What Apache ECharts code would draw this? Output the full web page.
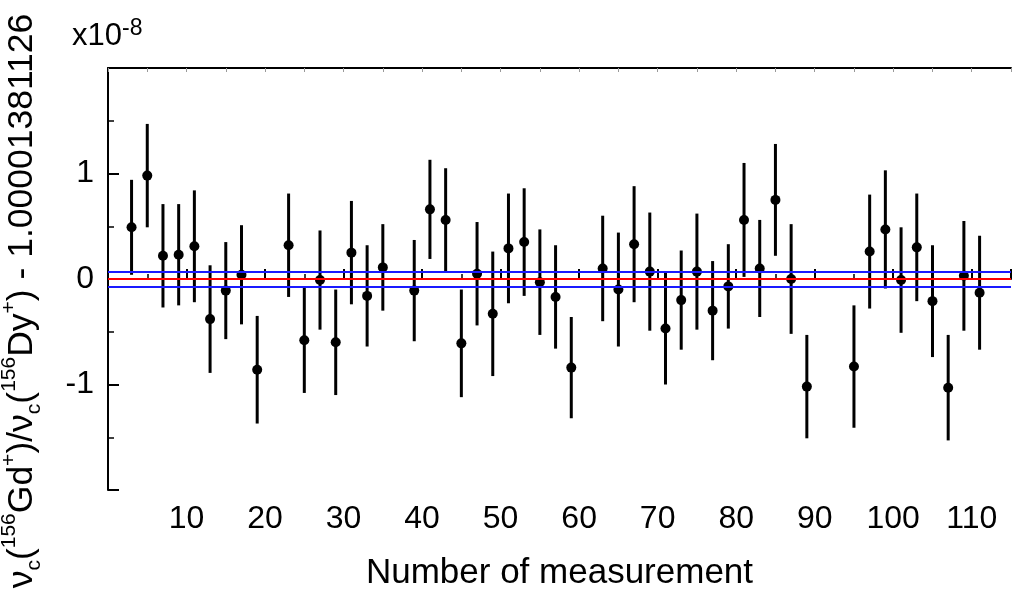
<!DOCTYPE html>
<html>
<head>
    <meta charset="utf-8">
    <title>Gd / Dy frequency ratio</title>
    <script src="https://cdn.jsdelivr.net/npm/echarts@6/dist/echarts.min.js"></script>
    <style>
        html, body { margin: 0; padding: 0; background: #fff; }
        #chart1 { width: 1014px; height: 596px; }
    </style>
</head>
<body>
<div id="chart1"></div>
<script type="text/javascript">
    // measurement number, ratio offset (x1e-8) and its 1-sigma error
    var measNo = [3, 5, 7, 9, 11, 13, 15, 17, 19, 23, 25, 27, 29, 31, 33, 35,
        39, 41, 43, 45, 47, 49, 51, 53, 55, 57, 59, 63, 65, 67, 69, 71,
        73, 75, 77, 79, 81, 83, 85, 87, 89, 95, 97, 99, 101, 103, 105, 107, 109, 111];
    var ratioVal = [0.49, 0.98, 0.22, 0.23, 0.31, -0.38, -0.11, 0.04, -0.86, 0.32, -0.58, -0.01, -0.60, 0.25, -0.16, 0.11,
        -0.11, 0.66, 0.56, -0.61, 0.05, -0.33, 0.29, 0.35, -0.03, -0.17, -0.84, 0.10, -0.10, 0.33, 0.07, -0.47,
        -0.20, 0.07, -0.30, -0.07, 0.56, 0.10, 0.75, 0.00, -1.02, -0.83, 0.26, 0.47, -0.01, 0.30, -0.21, -1.03, 0.03, -0.13];
    var ratioErr = [0.45, 0.49, 0.49, 0.48, 0.53, 0.51, 0.46, 0.47, 0.51, 0.49, 0.50, 0.47, 0.50, 0.49, 0.48, 0.41,
        0.48, 0.47, 0.49, 0.51, 0.49, 0.59, 0.52, 0.51, 0.50, 0.49, 0.48, 0.50, 0.54, 0.55, 0.56, 0.53,
        0.47, 0.55, 0.47, 0.40, 0.54, 0.46, 0.53, 0.52, 0.49, 0.58, 0.54, 0.56, 0.50, 0.51, 0.53, 0.50, 0.52, 0.54];
    // weighted mean (red) and its uncertainty band (blue)
    var meanVal = 0;
    var bandVal = [-0.07, 0.07];
    var xTickLabels = ['10', '20', '30', '40', '50', '60', '70', '80', '90', '100', '110'];
    var yTickLabels = ['-1', '0', '1'];

    var FONT = 'Liberation Sans, Arial, sans-serif';

    var pts = [];
    for (var i = 0; i < measNo.length; i++) {
        pts.push([measNo[i], ratioVal[i], ratioErr[i]]);
    }

    var myChart1 = echarts.init(document.getElementById('chart1'));

    myChart1.setOption({
        animation: false,
        backgroundColor: '#fff',
        textStyle: { fontFamily: FONT },
        grid: { left: 108, top: 68, right: -4, bottom: 104 },
        graphic: [
            {
                type: 'text', x: 22, y: 301, rotation: Math.PI / 2,
                style: {
                    text: '{m|ν}{s|c}{m|(}{p|156}{m|Gd}{p|+}{m|)/ν}{s|c}{m|(}{p|156}{m|Dy}{p|+}{m|) - 1.00001381126}',
                    align: 'center', verticalAlign: 'middle', fill: '#000',
                    rich: {
                        m: { fontSize: 35.5, lineHeight: 46, fontFamily: FONT, fill: '#000' },
                        p: { fontSize: 21, lineHeight: 22, verticalAlign: 'top', fontFamily: FONT, fill: '#000' },
                        s: { fontSize: 21, lineHeight: 22, verticalAlign: 'bottom', fontFamily: FONT, fill: '#000' }
                    }
                }
            },
            {
                type: 'text', x: 72, y: 17,
                style: {
                    text: '{m|x10}{p|-8}',
                    fill: '#000',
                    rich: {
                        m: { fontSize: 31, lineHeight: 38, fontFamily: FONT, fill: '#000' },
                        p: { fontSize: 23, lineHeight: 20, verticalAlign: 'top', fontFamily: FONT, fill: '#000' }
                    }
                }
            }
        ],
        xAxis: [
            {
                type: 'value', position: 'bottom', min: 0, max: 115, interval: 10,
                name: 'Number of measurement', nameLocation: 'middle', nameGap: 66,
                nameTextStyle: { fontSize: 35, color: '#000', fontFamily: FONT },
                axisLine: { lineStyle: { color: '#000', width: 2 } },
                axisTick: { inside: true, length: 10, lineStyle: { color: '#000', width: 2 } },
                minorTick: { show: true, splitNumber: 2, length: 5, lineStyle: { color: '#000', width: 1.5 } },
                splitLine: { show: false },
                axisLabel: {
                    fontSize: 32, color: '#000', margin: 13, fontFamily: FONT,
                    formatter: function (v) { return xTickLabels.indexOf(String(v)) >= 0 ? String(v) : ''; }
                }
            },
            {
                type: 'value', position: 'top', min: 0, max: 115, interval: 5,
                axisLine: { lineStyle: { color: '#000', width: 2 } },
                axisTick: { inside: true, length: 4, lineStyle: { color: '#999', width: 1 } },
                splitLine: { show: false },
                axisLabel: { show: false }
            }
        ],
        yAxis: {
            type: 'value', min: -2, max: 2, interval: 1,
            axisLine: { show: true, lineStyle: { color: '#000', width: 2 } },
            axisTick: { show: true, inside: true, length: 11, lineStyle: { color: '#000', width: 2 } },
            minorTick: { show: true, splitNumber: 2, length: 6, lineStyle: { color: '#000', width: 1.5 } },
            splitLine: { show: false },
            axisLabel: {
                fontSize: 32, color: '#000', margin: 14, fontFamily: FONT,
                formatter: function (v) { return yTickLabels.indexOf(String(v)) >= 0 ? String(v) : ''; }
            }
        },
        series: [
            {
                type: 'custom',
                z: 2,
                data: pts,
                encode: { x: 0, y: 1 },
                renderItem: function (params, api) {
                    var x = api.value(0), y = api.value(1), e = api.value(2);
                    var lo = api.coord([x, y - e]);
                    var hi = api.coord([x, y + e]);
                    return {
                        type: 'line',
                        shape: { x1: lo[0], y1: lo[1], x2: hi[0], y2: hi[1] },
                        style: { stroke: '#000', lineWidth: 3 }
                    };
                }
            },
            {
                type: 'line',
                z: 3,
                data: [],
                markLine: {
                    silent: true,
                    symbol: 'none',
                    label: { show: false },
                    data: [
                        { yAxis: bandVal[0], lineStyle: { color: '#1a1aff', width: 2, type: 'solid' } },
                        { yAxis: bandVal[1], lineStyle: { color: '#1a1aff', width: 2, type: 'solid' } },
                        { yAxis: meanVal, lineStyle: { color: '#ff0000', width: 2, type: 'solid' } }
                    ]
                }
            },
            {
                type: 'scatter',
                z: 4,
                symbol: 'circle',
                symbolSize: 10,
                itemStyle: { color: '#000', opacity: 1 },
                data: pts.map(function (p) { return [p[0], p[1]]; })
            }
        ]
    });
</script>
</body>
</html>
